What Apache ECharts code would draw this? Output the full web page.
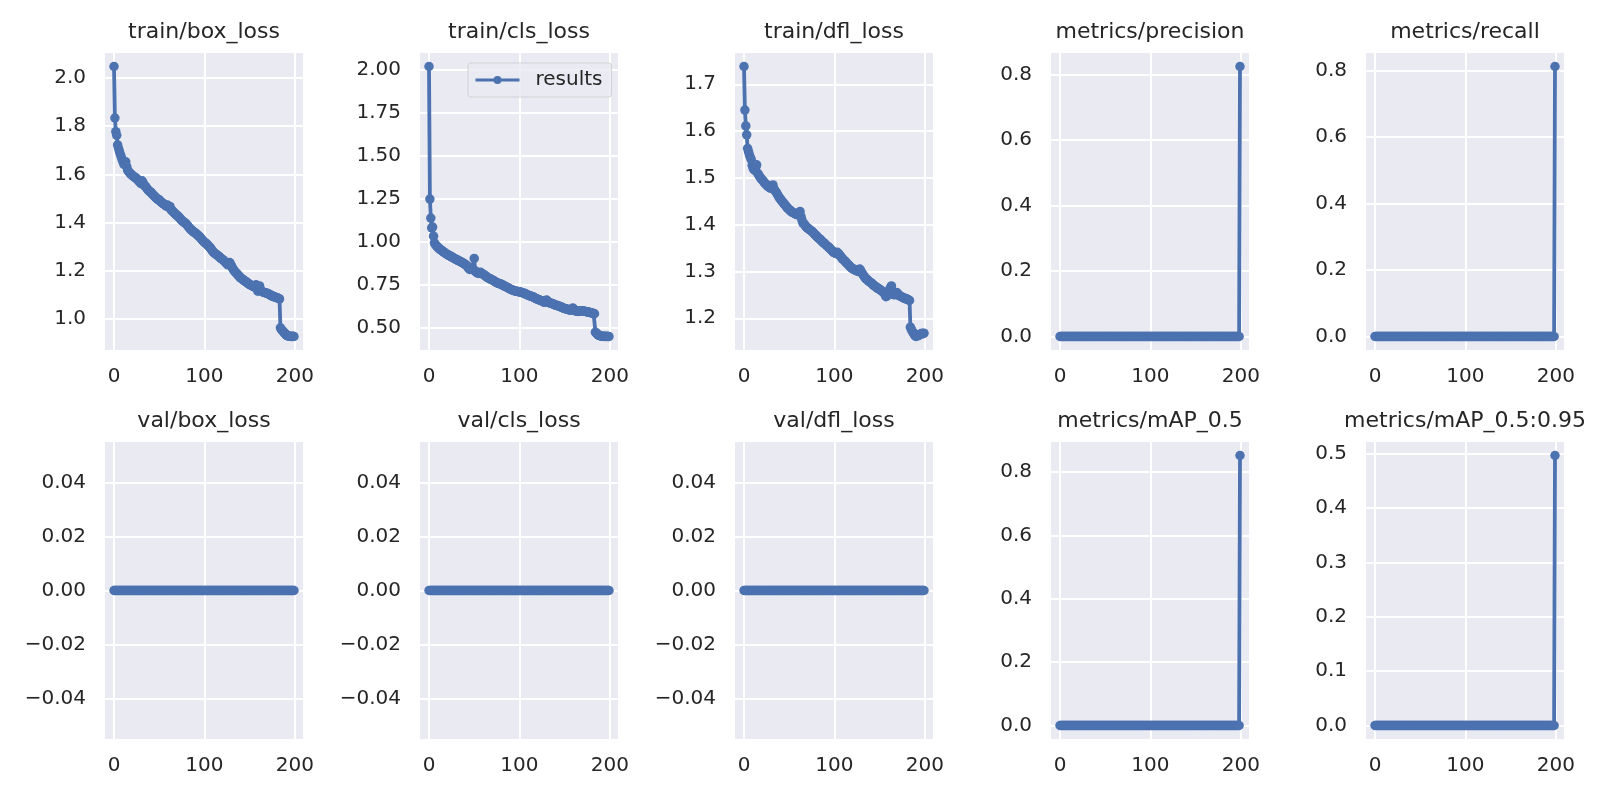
<!DOCTYPE html>
<html>
<head>
<meta charset="utf-8">
<title>results</title>
<script src="https://cdn.jsdelivr.net/npm/echarts@6.0.0/dist/echarts.min.js"></script>
<style>
  html, body { margin: 0; padding: 0; background: #fff; }
  #main { width: 1600px; height: 800px; }
</style>
</head>
<body>
<div id="main"></div>
<script>
// values, one per epoch (0..199)
var trainBoxLoss = [
  2.048, 1.834, 1.777, 1.762, 1.722, 1.708, 1.695, 1.683, 1.672, 1.660,
  1.652, 1.641, 1.648, 1.652, 1.633, 1.618, 1.612, 1.608, 1.603, 1.600,
  1.597, 1.593, 1.590, 1.588, 1.584, 1.583, 1.578, 1.574, 1.570, 1.565,
  1.561, 1.573, 1.566, 1.557, 1.552, 1.549, 1.544, 1.539, 1.533, 1.530,
  1.528, 1.524, 1.520, 1.515, 1.512, 1.508, 1.504, 1.500, 1.497, 1.495,
  1.494, 1.489, 1.485, 1.482, 1.479, 1.477, 1.474, 1.470, 1.468, 1.472,
  1.466, 1.462, 1.466, 1.453, 1.449, 1.446, 1.442, 1.439, 1.435, 1.431,
  1.428, 1.424, 1.421, 1.417, 1.412, 1.408, 1.405, 1.402, 1.399, 1.396,
  1.393, 1.389, 1.384, 1.379, 1.374, 1.370, 1.367, 1.364, 1.361, 1.358,
  1.356, 1.353, 1.349, 1.345, 1.342, 1.339, 1.335, 1.330, 1.325, 1.321,
  1.317, 1.315, 1.312, 1.308, 1.304, 1.301, 1.296, 1.291, 1.286, 1.281,
  1.276, 1.273, 1.270, 1.267, 1.264, 1.262, 1.258, 1.255, 1.252, 1.249,
  1.246, 1.243, 1.239, 1.235, 1.231, 1.228, 1.224, 1.229, 1.233, 1.225,
  1.218, 1.210, 1.204, 1.199, 1.194, 1.190, 1.186, 1.182, 1.178, 1.174,
  1.170, 1.167, 1.164, 1.161, 1.158, 1.156, 1.153, 1.150, 1.148, 1.145,
  1.142, 1.140, 1.138, 1.136, 1.134, 1.132, 1.130, 1.141, 1.128, 1.114,
  1.124, 1.136, 1.120, 1.116, 1.112, 1.110, 1.109, 1.108, 1.107, 1.106,
  1.105, 1.103, 1.100, 1.098, 1.096, 1.094, 1.093, 1.091, 1.090, 1.088,
  1.087, 1.086, 1.084, 1.082, 0.962, 0.956, 0.951, 0.947, 0.942, 0.938,
  0.934, 0.931, 0.929, 0.928, 0.927, 0.927, 0.926, 0.926, 0.927, 0.926
];
var trainClsLoss = [
  2.017, 1.248, 1.138, 1.081, 1.086, 1.033, 0.994, 0.985, 0.978, 0.972,
  0.966, 0.962, 0.958, 0.954, 0.950, 0.946, 0.942, 0.938, 0.935, 0.931,
  0.927, 0.925, 0.922, 0.919, 0.916, 0.913, 0.910, 0.907, 0.904, 0.901,
  0.898, 0.896, 0.893, 0.890, 0.888, 0.885, 0.882, 0.879, 0.875, 0.872,
  0.869, 0.866, 0.860, 0.853, 0.846, 0.840, 0.845, 0.851, 0.843, 0.838,
  0.904, 0.832, 0.826, 0.822, 0.819, 0.817, 0.820, 0.823, 0.816, 0.814,
  0.812, 0.808, 0.804, 0.800, 0.796, 0.792, 0.789, 0.787, 0.784, 0.781,
  0.779, 0.776, 0.773, 0.769, 0.766, 0.763, 0.761, 0.759, 0.757, 0.755,
  0.754, 0.751, 0.748, 0.745, 0.742, 0.740, 0.737, 0.734, 0.731, 0.728,
  0.725, 0.723, 0.721, 0.719, 0.717, 0.715, 0.714, 0.713, 0.712, 0.711,
  0.710, 0.708, 0.707, 0.705, 0.704, 0.702, 0.700, 0.697, 0.695, 0.692,
  0.690, 0.688, 0.686, 0.684, 0.682, 0.681, 0.678, 0.675, 0.672, 0.669,
  0.667, 0.665, 0.663, 0.661, 0.659, 0.658, 0.654, 0.651, 0.649, 0.656,
  0.662, 0.655, 0.650, 0.647, 0.645, 0.644, 0.642, 0.640, 0.638, 0.635,
  0.633, 0.632, 0.630, 0.628, 0.626, 0.625, 0.622, 0.620, 0.617, 0.615,
  0.613, 0.612, 0.610, 0.609, 0.607, 0.606, 0.604, 0.603, 0.611, 0.616,
  0.610, 0.604, 0.600, 0.598, 0.597, 0.596, 0.597, 0.599, 0.601, 0.600,
  0.600, 0.598, 0.597, 0.596, 0.595, 0.594, 0.593, 0.592, 0.590, 0.589,
  0.588, 0.586, 0.584, 0.583, 0.476, 0.470, 0.465, 0.461, 0.458, 0.455,
  0.454, 0.453, 0.452, 0.452, 0.451, 0.451, 0.452, 0.451, 0.451, 0.451
];
var trainDflLoss = [
  1.738, 1.645, 1.611, 1.592, 1.563, 1.556, 1.549, 1.544, 1.539, 1.527,
  1.521, 1.518, 1.516, 1.522, 1.528, 1.510, 1.507, 1.504, 1.501, 1.498,
  1.496, 1.494, 1.491, 1.489, 1.487, 1.485, 1.483, 1.481, 1.480, 1.478,
  1.479, 1.482, 1.485, 1.477, 1.473, 1.471, 1.468, 1.465, 1.461, 1.458,
  1.455, 1.453, 1.450, 1.448, 1.445, 1.443, 1.441, 1.438, 1.436, 1.434,
  1.432, 1.430, 1.429, 1.427, 1.426, 1.425, 1.424, 1.423, 1.422, 1.421,
  1.422, 1.426, 1.428, 1.418, 1.410, 1.404, 1.402, 1.400, 1.397, 1.395,
  1.393, 1.392, 1.390, 1.389, 1.387, 1.386, 1.384, 1.382, 1.380, 1.378,
  1.376, 1.374, 1.372, 1.370, 1.369, 1.367, 1.365, 1.363, 1.361, 1.360,
  1.358, 1.356, 1.354, 1.353, 1.351, 1.349, 1.347, 1.345, 1.343, 1.341,
  1.340, 1.339, 1.338, 1.341, 1.339, 1.337, 1.334, 1.332, 1.329, 1.327,
  1.325, 1.323, 1.321, 1.319, 1.317, 1.315, 1.313, 1.311, 1.309, 1.307,
  1.306, 1.305, 1.304, 1.303, 1.302, 1.301, 1.300, 1.303, 1.305, 1.302,
  1.298, 1.295, 1.292, 1.289, 1.286, 1.284, 1.283, 1.281, 1.279, 1.278,
  1.276, 1.275, 1.273, 1.271, 1.270, 1.268, 1.267, 1.265, 1.264, 1.263,
  1.262, 1.260, 1.259, 1.257, 1.256, 1.254, 1.250, 1.246, 1.248, 1.252,
  1.255, 1.261, 1.266, 1.269, 1.258, 1.252, 1.250, 1.251, 1.253, 1.255,
  1.252, 1.250, 1.248, 1.247, 1.246, 1.245, 1.244, 1.243, 1.242, 1.242,
  1.241, 1.240, 1.239, 1.238, 1.181, 1.176, 1.172, 1.170, 1.166, 1.163,
  1.161, 1.162, 1.164, 1.163, 1.165, 1.166, 1.167, 1.168, 1.167, 1.168
];
var valBoxLoss = [
  0,0,0,0,0,0,0,0,0,0, 0,0,0,0,0,0,0,0,0,0, 0,0,0,0,0,0,0,0,0,0, 0,0,0,0,0,0,0,0,0,0, 0,0,0,0,0,0,0,0,0,0,
  0,0,0,0,0,0,0,0,0,0, 0,0,0,0,0,0,0,0,0,0, 0,0,0,0,0,0,0,0,0,0, 0,0,0,0,0,0,0,0,0,0, 0,0,0,0,0,0,0,0,0,0,
  0,0,0,0,0,0,0,0,0,0, 0,0,0,0,0,0,0,0,0,0, 0,0,0,0,0,0,0,0,0,0, 0,0,0,0,0,0,0,0,0,0, 0,0,0,0,0,0,0,0,0,0,
  0,0,0,0,0,0,0,0,0,0, 0,0,0,0,0,0,0,0,0,0, 0,0,0,0,0,0,0,0,0,0, 0,0,0,0,0,0,0,0,0,0, 0,0,0,0,0,0,0,0,0,0
];
var valClsLoss = [
  0,0,0,0,0,0,0,0,0,0, 0,0,0,0,0,0,0,0,0,0, 0,0,0,0,0,0,0,0,0,0, 0,0,0,0,0,0,0,0,0,0, 0,0,0,0,0,0,0,0,0,0,
  0,0,0,0,0,0,0,0,0,0, 0,0,0,0,0,0,0,0,0,0, 0,0,0,0,0,0,0,0,0,0, 0,0,0,0,0,0,0,0,0,0, 0,0,0,0,0,0,0,0,0,0,
  0,0,0,0,0,0,0,0,0,0, 0,0,0,0,0,0,0,0,0,0, 0,0,0,0,0,0,0,0,0,0, 0,0,0,0,0,0,0,0,0,0, 0,0,0,0,0,0,0,0,0,0,
  0,0,0,0,0,0,0,0,0,0, 0,0,0,0,0,0,0,0,0,0, 0,0,0,0,0,0,0,0,0,0, 0,0,0,0,0,0,0,0,0,0, 0,0,0,0,0,0,0,0,0,0
];
var valDflLoss = [
  0,0,0,0,0,0,0,0,0,0, 0,0,0,0,0,0,0,0,0,0, 0,0,0,0,0,0,0,0,0,0, 0,0,0,0,0,0,0,0,0,0, 0,0,0,0,0,0,0,0,0,0,
  0,0,0,0,0,0,0,0,0,0, 0,0,0,0,0,0,0,0,0,0, 0,0,0,0,0,0,0,0,0,0, 0,0,0,0,0,0,0,0,0,0, 0,0,0,0,0,0,0,0,0,0,
  0,0,0,0,0,0,0,0,0,0, 0,0,0,0,0,0,0,0,0,0, 0,0,0,0,0,0,0,0,0,0, 0,0,0,0,0,0,0,0,0,0, 0,0,0,0,0,0,0,0,0,0,
  0,0,0,0,0,0,0,0,0,0, 0,0,0,0,0,0,0,0,0,0, 0,0,0,0,0,0,0,0,0,0, 0,0,0,0,0,0,0,0,0,0, 0,0,0,0,0,0,0,0,0,0
];
var precision = [
  0,0,0,0,0,0,0,0,0,0, 0,0,0,0,0,0,0,0,0,0, 0,0,0,0,0,0,0,0,0,0, 0,0,0,0,0,0,0,0,0,0, 0,0,0,0,0,0,0,0,0,0,
  0,0,0,0,0,0,0,0,0,0, 0,0,0,0,0,0,0,0,0,0, 0,0,0,0,0,0,0,0,0,0, 0,0,0,0,0,0,0,0,0,0, 0,0,0,0,0,0,0,0,0,0,
  0,0,0,0,0,0,0,0,0,0, 0,0,0,0,0,0,0,0,0,0, 0,0,0,0,0,0,0,0,0,0, 0,0,0,0,0,0,0,0,0,0, 0,0,0,0,0,0,0,0,0,0,
  0,0,0,0,0,0,0,0,0,0, 0,0,0,0,0,0,0,0,0,0, 0,0,0,0,0,0,0,0,0,0, 0,0,0,0,0,0,0,0,0,0, 0,0,0,0,0,0,0,0,0,0.824
];
var recall = [
  0,0,0,0,0,0,0,0,0,0, 0,0,0,0,0,0,0,0,0,0, 0,0,0,0,0,0,0,0,0,0, 0,0,0,0,0,0,0,0,0,0, 0,0,0,0,0,0,0,0,0,0,
  0,0,0,0,0,0,0,0,0,0, 0,0,0,0,0,0,0,0,0,0, 0,0,0,0,0,0,0,0,0,0, 0,0,0,0,0,0,0,0,0,0, 0,0,0,0,0,0,0,0,0,0,
  0,0,0,0,0,0,0,0,0,0, 0,0,0,0,0,0,0,0,0,0, 0,0,0,0,0,0,0,0,0,0, 0,0,0,0,0,0,0,0,0,0, 0,0,0,0,0,0,0,0,0,0,
  0,0,0,0,0,0,0,0,0,0, 0,0,0,0,0,0,0,0,0,0, 0,0,0,0,0,0,0,0,0,0, 0,0,0,0,0,0,0,0,0,0, 0,0,0,0,0,0,0,0,0,0.812
];
var map50 = [
  0,0,0,0,0,0,0,0,0,0, 0,0,0,0,0,0,0,0,0,0, 0,0,0,0,0,0,0,0,0,0, 0,0,0,0,0,0,0,0,0,0, 0,0,0,0,0,0,0,0,0,0,
  0,0,0,0,0,0,0,0,0,0, 0,0,0,0,0,0,0,0,0,0, 0,0,0,0,0,0,0,0,0,0, 0,0,0,0,0,0,0,0,0,0, 0,0,0,0,0,0,0,0,0,0,
  0,0,0,0,0,0,0,0,0,0, 0,0,0,0,0,0,0,0,0,0, 0,0,0,0,0,0,0,0,0,0, 0,0,0,0,0,0,0,0,0,0, 0,0,0,0,0,0,0,0,0,0,
  0,0,0,0,0,0,0,0,0,0, 0,0,0,0,0,0,0,0,0,0, 0,0,0,0,0,0,0,0,0,0, 0,0,0,0,0,0,0,0,0,0, 0,0,0,0,0,0,0,0,0,0.852
];
var map5095 = [
  0,0,0,0,0,0,0,0,0,0, 0,0,0,0,0,0,0,0,0,0, 0,0,0,0,0,0,0,0,0,0, 0,0,0,0,0,0,0,0,0,0, 0,0,0,0,0,0,0,0,0,0,
  0,0,0,0,0,0,0,0,0,0, 0,0,0,0,0,0,0,0,0,0, 0,0,0,0,0,0,0,0,0,0, 0,0,0,0,0,0,0,0,0,0, 0,0,0,0,0,0,0,0,0,0,
  0,0,0,0,0,0,0,0,0,0, 0,0,0,0,0,0,0,0,0,0, 0,0,0,0,0,0,0,0,0,0, 0,0,0,0,0,0,0,0,0,0, 0,0,0,0,0,0,0,0,0,0,
  0,0,0,0,0,0,0,0,0,0, 0,0,0,0,0,0,0,0,0,0, 0,0,0,0,0,0,0,0,0,0, 0,0,0,0,0,0,0,0,0,0, 0,0,0,0,0,0,0,0,0,0.497
];

var titles = [
  'train/box_loss', 'train/cls_loss', 'train/dfl_loss', 'metrics/precision', 'metrics/recall',
  'val/box_loss', 'val/cls_loss', 'val/dfl_loss', 'metrics/mAP_0.5', 'metrics/mAP_0.5:0.95'
];

// tick labels
var epochTicks = [0, 100, 200];
var boxTicks = [1.0, 1.2, 1.4, 1.6, 1.8, 2.0];
var clsTicks = [0.5, 0.75, 1.0, 1.25, 1.5, 1.75, 2.0];
var dflTicks = [1.2, 1.3, 1.4, 1.5, 1.6, 1.7];
var metricTicks = [0, 0.2, 0.4, 0.6, 0.8];
var valTicks = [-0.04, -0.02, 0, 0.02, 0.04];
var map5095Ticks = [0, 0.1, 0.2, 0.3, 0.4, 0.5];

var panels = [
  {data: trainBoxLoss, ticks: boxTicks, dec: 1},
  {data: trainClsLoss, ticks: clsTicks, dec: 2},
  {data: trainDflLoss, ticks: dflTicks, dec: 1},
  {data: precision, ticks: metricTicks, dec: 1},
  {data: recall, ticks: metricTicks, dec: 1},
  {data: valBoxLoss, ticks: valTicks, dec: 2},
  {data: valClsLoss, ticks: valTicks, dec: 2},
  {data: valDflLoss, ticks: valTicks, dec: 2},
  {data: map50, ticks: metricTicks, dec: 1},
  {data: map5095, ticks: map5095Ticks, dec: 1}
];

var FONT = 'DejaVu Sans';
var TEXT = '#262626';
var BLUE = '#4C72B0';
var colLeft = [105, 420, 735, 1051, 1366];
var rowTop = [53, 442];
var plotW = 198, plotH = 297;

// matplotlib style 5% margins
function limits(arr) {
  var lo = Math.min.apply(null, arr), hi = Math.max.apply(null, arr);
  if (hi === lo) return [lo - 0.055, hi + 0.055];
  var pad = (hi - lo) * 0.05;
  return [lo - pad, hi + pad];
}

var grids = [], xAxes = [], yAxes = [], series = [], titleList = [];
panels.forEach(function (p, i) {
  var col = i % 5, row = Math.floor(i / 5);
  var left = colLeft[col], top = rowTop[row];
  grids.push({
    left: left, top: top, width: plotW, height: plotH,
    show: true, backgroundColor: '#EAEAF2', borderWidth: 0,
    outerBoundsMode: 'none'
  });
  titleList.push({
    text: titles[i], left: left + plotW / 2, top: row === 0 ? 21 : 410,
    textAlign: 'center', padding: 0,
    textStyle: {fontFamily: FONT, fontSize: 22, fontWeight: 'normal', color: TEXT}
  });
  xAxes.push({
    type: 'value', gridIndex: i, min: -9.95, max: 208.95,
    axisLine: {show: false},
    axisTick: {show: false, customValues: epochTicks},
    axisLabel: {customValues: epochTicks, fontFamily: FONT, fontSize: 20, color: TEXT, margin: 17},
    splitLine: {show: true, lineStyle: {color: '#ffffff', width: 2}}
  });
  var lim = limits(p.data);
  yAxes.push({
    type: 'value', gridIndex: i, min: lim[0], max: lim[1],
    axisLine: {show: false},
    axisTick: {show: false, customValues: p.ticks},
    axisLabel: {
      customValues: p.ticks, fontFamily: FONT, fontSize: 20, color: TEXT, margin: 19,
      formatter: (function (d) {
        return function (v) { return v.toFixed(d).replace('-', '\u2212'); };
      })(p.dec)
    },
    splitLine: {show: true, lineStyle: {color: '#ffffff', width: 2}}
  });
  series.push({
    name: 'results', type: 'line', xAxisIndex: i, yAxisIndex: i,
    data: p.data.map(function (v, k) { return [k, v]; }),
    symbol: 'circle', symbolSize: 9.5, showSymbol: true,
    lineStyle: {color: BLUE, width: 3.8},
    itemStyle: {color: BLUE},
    emphasis: {disabled: true},
    z: 3
  });
});

var myChart = echarts.init(document.getElementById('main'));
var option = {
  backgroundColor: '#ffffff',
  animation: false,
  title: titleList,
  legend: {
    data: ['results'], left: 468, top: 63,
    padding: [7, 9, 7, 6],
    itemWidth: 44, itemHeight: 10,
    backgroundColor: 'rgba(234,234,242,0.8)',
    borderColor: 'rgba(204,204,204,0.8)', borderWidth: 1, borderRadius: 3,
    lineStyle: {width: 3},
    textStyle: {fontFamily: FONT, fontSize: 20, color: TEXT, padding: [0, 0, 0, 11]},
    selectedMode: false
  },
  grid: grids,
  xAxis: xAxes,
  yAxis: yAxes,
  series: series
};
myChart.setOption(option);
window.onresize = myChart.resize;
</script>
</body>
</html>
